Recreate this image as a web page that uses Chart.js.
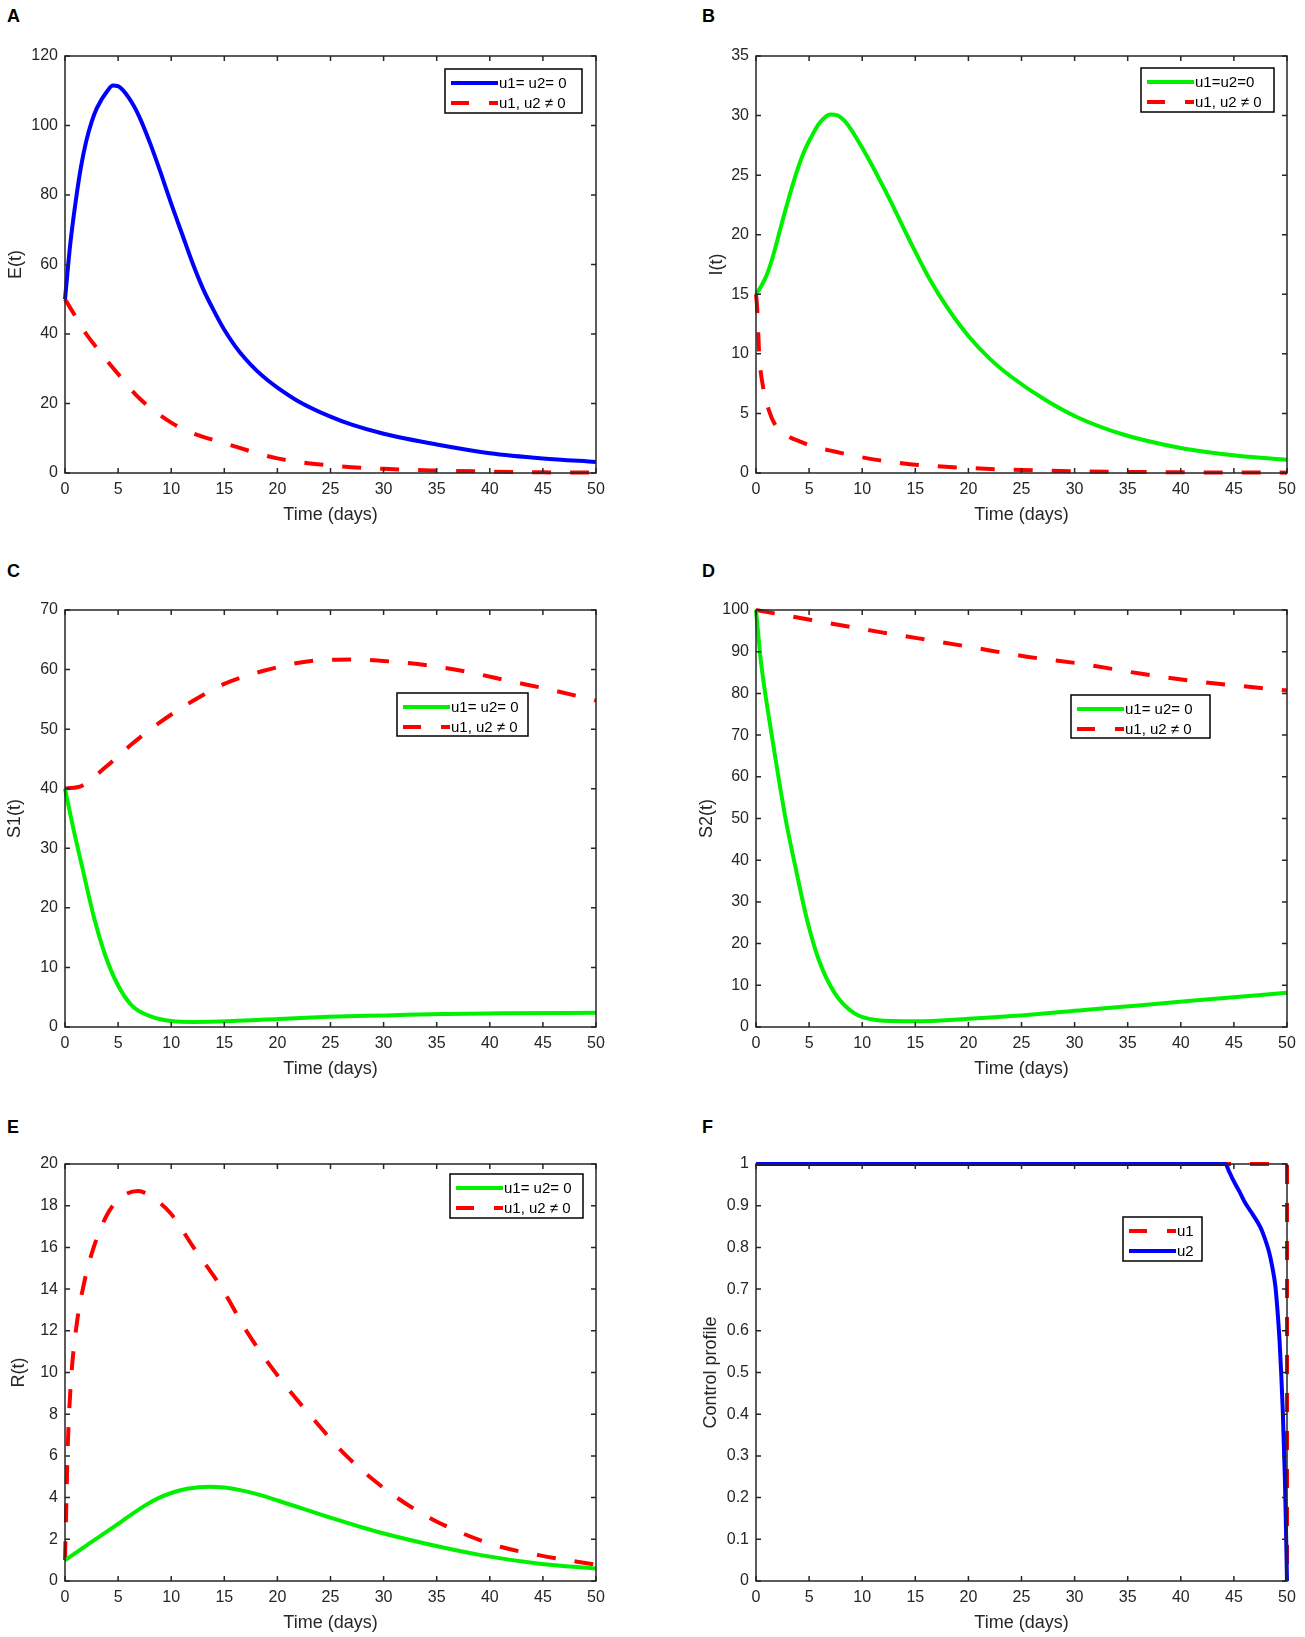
<!DOCTYPE html>
<html>
<head>
<meta charset="utf-8">
<script src="https://cdn.jsdelivr.net/npm/chart.js@4.4.1/dist/chart.umd.min.js"></script>
<style>
body { margin: 0; background: #fff; width: 1305px; height: 1637px; position: relative; overflow: hidden; }
.panel { position: absolute; height: 545px; }
.left { left: 0; width: 640px; }
.right { left: 652px; width: 653px; }
.letter { position: absolute; font: bold 18px "Liberation Sans", Arial, sans-serif; color: #000; line-height: 1; }
</style>
</head>
<body>
<div class="letter" style="left:7px;top:7px">A</div>
<div class="letter" style="left:702px;top:7px">B</div>
<div class="letter" style="left:7px;top:562px">C</div>
<div class="letter" style="left:702px;top:562px">D</div>
<div class="letter" style="left:7px;top:1118px">E</div>
<div class="letter" style="left:702px;top:1118px">F</div>

<div class="panel left" style="top:0"><canvas id="chartA"></canvas></div>
<div class="panel right" style="top:0"><canvas id="chartB"></canvas></div>
<div class="panel left" style="top:554px"><canvas id="chartC"></canvas></div>
<div class="panel right" style="top:554px"><canvas id="chartD"></canvas></div>
<div class="panel left" style="top:1108px"><canvas id="chartE"></canvas></div>
<div class="panel right" style="top:1108px"><canvas id="chartF"></canvas></div>

<script>
// values (time in days)
const tA1 = [0,0.5,1,1.5,2,2.5,3,4,4.5,5,6,7,8,9,10,11,12,13,14,15,16,17,18,19,20,22,25,27,30,35,40,45,50]
const eNoControl = [50,66,78,88,95.5,101,105,110,111.5,111.3,108,102.5,95,86.5,77.5,69,60.5,53,46.8,41.2,36.6,32.8,29.6,26.9,24.6,20.6,16.2,13.9,11.3,8.2,5.7,4.2,3.2]
const tA2 = [0,1,2,3,5,7,10,12,15,20,25,30,35,40,45,50]
const eControl = [50,45,40,36,28.5,21.5,14.5,11.5,8.6,4.2,2.2,1.2,0.7,0.4,0.2,0.1]

const tB1 = [0,0.5,1,1.5,2,2.5,3,3.7,4.4,5.2,6,7,7.7,8.4,10,12.4,14.2,16.4,18,20,22,24,27.3,30.2,34.5,40,45.4,50]
const iNoControl = [15,15.7,16.6,17.9,19.5,21.2,22.8,24.9,26.7,28.2,29.4,30.1,30,29.5,27.3,23.3,20,16.2,13.9,11.5,9.6,8.1,6.1,4.7,3.25,2.1,1.45,1.1]
const tB2 = [0,0.1,0.3,0.65,1.2,1.9,3,4.1,5.5,7.4,9.5,11.7,15,20,25,30,40,50]
const iControl = [15,14,10,7.3,5.3,3.9,3.1,2.65,2.2,1.8,1.4,1.06,0.7,0.42,0.25,0.15,0.06,0.03]

const tC1 = [0,0.7,1.6,2.7,3.8,4.9,6.3,8.2,10,12.1,15.8,20.1,24.8,30.3,35.7,41.1,50]
const s1NoControl = [40,34,27,18.6,12,7.3,3.6,1.7,1.0,0.85,1.0,1.35,1.7,1.95,2.2,2.3,2.4]
const tC2 = [0,1.6,3.8,6.3,8.9,12.1,15,18.7,23,27.4,31,34.6,38.2,41.8,45.5,50]
const s1Control = [40,40.5,43.6,47.5,51.1,54.8,57.6,59.8,61.4,61.7,61.3,60.6,59.5,58.1,56.7,54.8]

const tD1 = [0,0.47,1.2,1.9,2.8,3.7,4.8,5.9,7.4,9.2,11.3,15,20,25.5,30.9,36.3,41.8,50]
const s2NoControl = [100,87.5,74.5,63.3,49.7,38.5,25.8,16.2,8.2,3.4,1.7,1.35,2,2.9,4.1,5.2,6.5,8.2]
const tD2 = [0,5.2,11.7,15.3,20,25.5,30.9,36.3,41.8,50]
const s2Control = [100,97.6,94.7,93.2,91.2,88.8,87,84.7,82.8,80.7]

const tE1 = [0,2,4.9,6,7.4,8.7,10,11.5,13.6,15,16.5,18,20.1,24.8,29.5,33.9,39.3,44.7,50]
const rNoControl = [1,1.7,2.7,3.1,3.58,3.95,4.22,4.42,4.52,4.48,4.36,4.18,3.85,3.07,2.35,1.8,1.23,0.83,0.6]
const tE2 = [0,0.1,0.25,0.55,1.1,1.8,2.7,4,5.25,6.9,8.2,10,12.1,14.7,17.2,20.1,23,26.6,30.3,33.9,37.5,41.1,44.7,50]
const rControl = [1,3.1,6.3,9.5,12.3,14.3,16,17.6,18.4,18.7,18.4,17.6,16,14.1,11.9,9.8,8,5.95,4.35,3.15,2.27,1.63,1.23,0.78]

const tF1 = [0,50,50]
const u1 = [1,1,0]
const tF2 = [0,44.2,44.5,44.9,45.5,46.1,46.8,47.5,48,48.3,48.6,48.9,49.1,49.3,49.45,49.6,49.8,49.9,50]
const u2 = [1,1,0.985,0.963,0.935,0.905,0.878,0.848,0.815,0.79,0.755,0.708,0.65,0.576,0.5,0.41,0.247,0.13,0]

const timeTicks = [0,5,10,15,20,25,30,35,40,45,50]

const BLUE = 'rgb(0,0,255)'
const GREEN = 'rgb(0,240,0)'
const RED = 'rgb(255,0,0)'
const DASH = [19,19]

Chart.defaults.font.family = '"Liberation Sans", Arial, sans-serif'
Chart.defaults.color = '#262626'

const pts = (xs, ys) => xs.map((x, i) => ({x: x, y: ys[i]}))

// MATLAB style box, inward ticks and boxed legend
const matlabBox = {
    id: 'matlabBox',
    afterDatasetsDraw(chart, args, opts) {
        const {ctx, chartArea: a} = chart
        const sx = chart.scales.x, sy = chart.scales.y
        ctx.save()
        ctx.setLineDash([])
        ctx.strokeStyle = '#262626'
        ctx.lineWidth = 1.5
        ctx.strokeRect(a.left, a.top, a.width, a.height)
        ctx.beginPath()
        sx.ticks.forEach(t => {
            const p = sx.getPixelForValue(t.value)
            ctx.moveTo(p, a.bottom); ctx.lineTo(p, a.bottom - 5)
            ctx.moveTo(p, a.top); ctx.lineTo(p, a.top + 5)
        })
        sy.ticks.forEach(t => {
            const p = sy.getPixelForValue(t.value)
            ctx.moveTo(a.left, p); ctx.lineTo(a.left + 5, p)
            ctx.moveTo(a.right, p); ctx.lineTo(a.right - 5, p)
        })
        ctx.stroke()

        const L = opts.legend
        if (L) {
            const bx = a.left + L.x, by = a.top + L.y
            ctx.fillStyle = '#fff'
            ctx.fillRect(bx, by, L.w, L.h)
            ctx.strokeStyle = '#000'
            ctx.lineWidth = 1.5
            ctx.strokeRect(bx, by, L.w, L.h)
            ctx.font = '15px "Liberation Sans", Arial, sans-serif'
            ctx.textBaseline = 'middle'
            ctx.textAlign = 'left'
            chart.data.datasets.forEach((ds, i) => {
                const ry = by + 14 + 20 * i
                ctx.beginPath()
                ctx.strokeStyle = ds.borderColor
                ctx.lineWidth = 4
                ctx.setLineDash(ds.borderDash && ds.borderDash.length ? [18, 20] : [])
                ctx.moveTo(bx + 6, ry)
                ctx.lineTo(bx + 53, ry)
                ctx.stroke()
                ctx.setLineDash([])
                ctx.fillStyle = '#000'
                ctx.fillText(ds.label, bx + 54, ry + 1)
            })
        }
        ctx.restore()
    }
}

function makeChart(id, datasets, yOpts, yTitle, side, titleX, legend) {
    const axisW = side === 'left' ? 65 : 104
    return new Chart(document.getElementById(id), {
        type: 'line',
        data: {
            datasets: datasets.map(d => ({
                label: d.label,
                data: d.data,
                borderColor: d.color,
                backgroundColor: d.color,
                borderDash: d.dash ? DASH : [],
                borderWidth: 4,
                borderCapStyle: 'butt',
                pointRadius: 0,
                fill: false,
                clip: 6,
                order: d.order || 0,
                cubicInterpolationMode: d.linear ? 'default' : 'monotone',
                tension: 0
            }))
        },
        options: {
            responsive: true,
            maintainAspectRatio: false,
            animation: false,
            layout: {padding: {left: 0, top: 56, right: side === 'left' ? 44 : 18, bottom: 19}},
            plugins: {
                legend: {display: false},
                tooltip: {enabled: false},
                matlabBox: {legend: legend}
            },
            scales: {
                x: {
                    type: 'linear',
                    min: 0, max: 50,
                    afterBuildTicks: s => { s.ticks = timeTicks.map(v => ({value: v})) },
                    afterFit: s => { s.height = 53 },
                    grid: {display: false, drawTicks: false},
                    border: {display: false},
                    ticks: {font: {size: 16}, padding: 7, maxRotation: 0, autoSkip: false,
                        callback: v => String(+Number(v).toFixed(2))},
                    title: {display: true, text: 'Time (days)', font: {size: 18}, padding: {top: 0, bottom: 0}}
                },
                y: {
                    type: 'linear',
                    min: yOpts.min, max: yOpts.max,
                    afterFit: s => { s.width = axisW },
                    grid: {display: false, drawTicks: false},
                    border: {display: false},
                    ticks: {font: {size: 16}, padding: 7, stepSize: yOpts.step,
                        callback: v => String(+Number(v).toFixed(2))},
                    title: {display: true, text: yTitle, font: {size: 18}, padding: {top: titleX - 10.8, bottom: 0}}
                }
            }
        },
        plugins: [matlabBox]
    })
}

makeChart('chartA', [
    {label: 'u1= u2= 0', data: pts(tA1, eNoControl), color: BLUE},
    {label: 'u1, u2 \u2260 0', data: pts(tA2, eControl), color: RED, dash: true}
], {min: 0, max: 120, step: 20}, 'E(t)', 'left', 16, {x: 380, y: 13, w: 137, h: 44})

makeChart('chartB', [
    {label: 'u1=u2=0', data: pts(tB1, iNoControl), color: GREEN},
    {label: 'u1, u2 \u2260 0', data: pts(tB2, iControl), color: RED, dash: true}
], {min: 0, max: 35, step: 5}, 'I(t)', 'right', 65, {x: 385, y: 12, w: 133, h: 44})

makeChart('chartC', [
    {label: 'u1= u2= 0', data: pts(tC1, s1NoControl), color: GREEN},
    {label: 'u1, u2 \u2260 0', data: pts(tC2, s1Control), color: RED, dash: true}
], {min: 0, max: 70, step: 10}, 'S1(t)', 'left', 15, {x: 332, y: 83, w: 131, h: 43})

makeChart('chartD', [
    {label: 'u1= u2= 0', data: pts(tD1, s2NoControl), color: GREEN},
    {label: 'u1, u2 \u2260 0', data: pts(tD2, s2Control), color: RED, dash: true}
], {min: 0, max: 100, step: 10}, 'S2(t)', 'right', 55, {x: 315, y: 85, w: 139, h: 43})

makeChart('chartE', [
    {label: 'u1= u2= 0', data: pts(tE1, rNoControl), color: GREEN},
    {label: 'u1, u2 \u2260 0', data: pts(tE2, rControl), color: RED, dash: true}
], {min: 0, max: 20, step: 2}, 'R(t)', 'left', 19, {x: 385, y: 10, w: 133, h: 44})

makeChart('chartF', [
    {label: 'u1', data: pts(tF1, u1), color: RED, dash: true, order: 1, linear: true},
    {label: 'u2', data: pts(tF2, u2), color: BLUE, order: 0}
], {min: 0, max: 1, step: 0.1}, 'Control profile', 'right', 59, {x: 367, y: 53, w: 79, h: 44})
</script>
</body>
</html>
